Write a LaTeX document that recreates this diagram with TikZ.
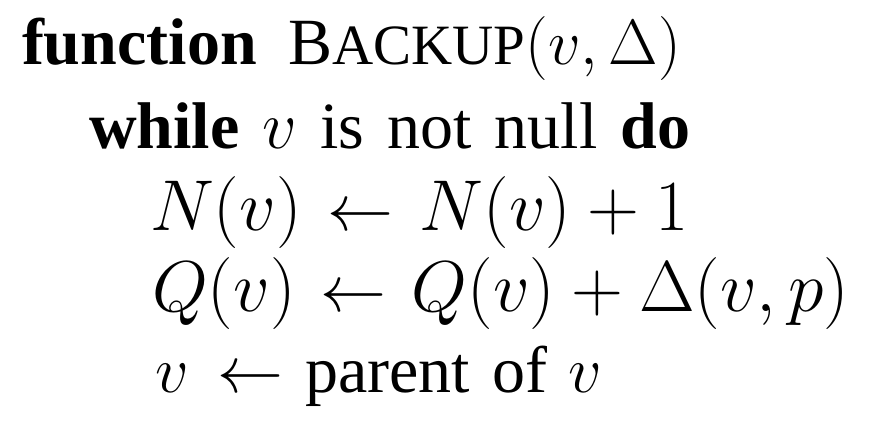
\RequirePackage{fix-cm}
\documentclass[tikz,border=0pt]{standalone}
\usepackage[no-math]{fontspec}
\setmainfont{Liberation Serif}
\newcommand{\bsc}[1]{{\fontsize{57}{60}\selectfont #1}}
\newcommand{\msz}[2]{{\fontsize{#1}{#1}\selectfont$#2$}}
\newcommand{\sgets}{\mathrel{\hbox{\fontsize{66}{66}\selectfont$\leftarrow$}}}
\tikzset{codeline/.style={anchor=base west, inner sep=0pt, outer sep=0pt, font=\fontsize{66}{74}\selectfont},
  mathline/.style={anchor=base west, inner sep=0pt, outer sep=0pt, font=\fontsize{72}{80}\selectfont}}
\begin{document}
\begin{tikzpicture}[x=1pt,y=1pt]
\useasboundingbox (0,0) rectangle (874,-432);
\node[codeline] (l1) at (22,-64) {\spaceskip=0.48em\textbf{function} B\bsc{ACKUP}\msz{64}{(v,\Delta)}};
\node[codeline] (l2) at (89,-148) {\spaceskip=0.35em\textbf{while} \msz{68}{v} is not null \textbf{do}};
\node[mathline] (l3) at (150,-230) {\thickmuskip=6.5mu$N(v)\sgets N(v)+1$};
\node[mathline] (l4) at (152,-311) {\thickmuskip=6.3mu$Q(v)\sgets Q(v)+\Delta(v,p)$};
\node[codeline] (l5) at (155,-392) {\thickmuskip=7.9mu\spaceskip=0.33em$v\leftarrow$ parent of $v$};
\end{tikzpicture}
\end{document}
